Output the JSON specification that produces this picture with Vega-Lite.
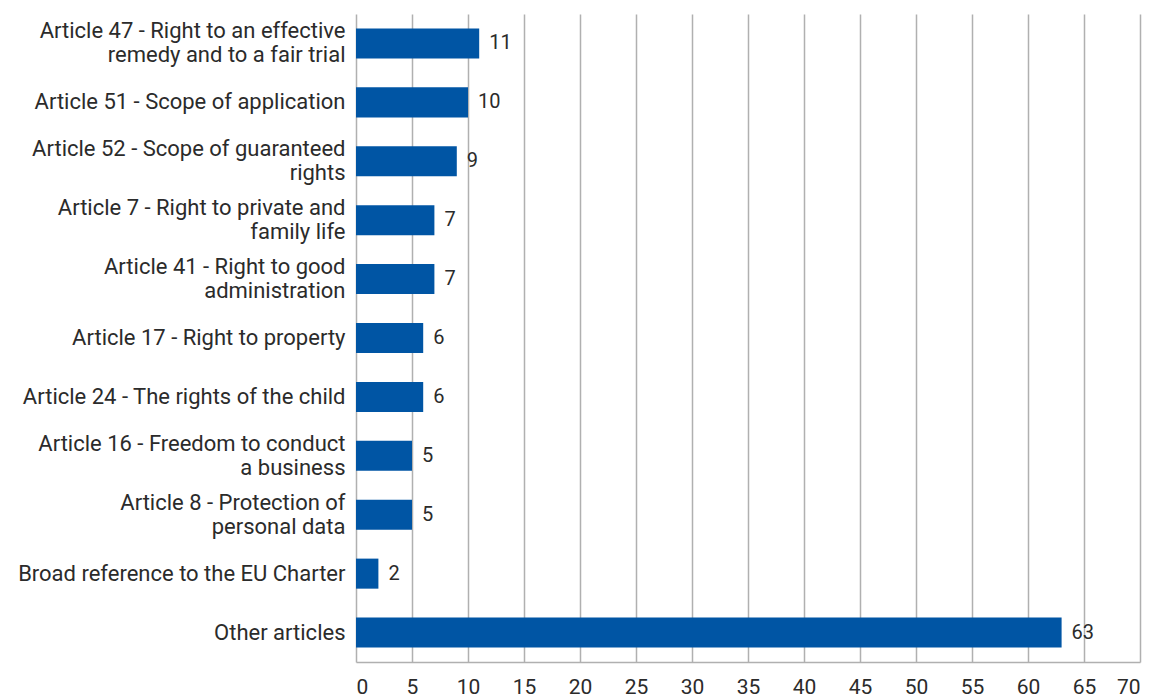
{
  "$schema": "https://vega.github.io/schema/vega-lite/v6.json",
  "width": 784,
  "height": 648,
  "autosize": {"type": "none"},
  "padding": {"left": 356, "top": 14, "right": 13, "bottom": 33},
  "background": "white",
  "config": {
    "font": "Roboto",
    "view": {"stroke": null}
  },
  "data": {
    "values": [
      {"article": "Article 47 - Right to an effective|remedy and to a fair trial", "count": 11, "order": 1},
      {"article": "Article 51 - Scope of application", "count": 10, "order": 2},
      {"article": "Article 52 - Scope of guaranteed|rights", "count": 9, "order": 3},
      {"article": "Article 7 - Right to private and|family life", "count": 7, "order": 4},
      {"article": "Article 41 - Right to good|administration", "count": 7, "order": 5},
      {"article": "Article 17 - Right to property", "count": 6, "order": 6},
      {"article": "Article 24 - The rights of the child", "count": 6, "order": 7},
      {"article": "Article 16 - Freedom to conduct|a business", "count": 5, "order": 8},
      {"article": "Article 8 - Protection of|personal data", "count": 5, "order": 9},
      {"article": "Broad reference to the EU Charter", "count": 2, "order": 10},
      {"article": "Other articles", "count": 63, "order": 11}
    ]
  },
  "encoding": {
    "y": {
      "field": "article",
      "type": "nominal",
      "sort": {"field": "order", "op": "min", "order": "ascending"},
      "scale": {"paddingInner": 0.49, "paddingOuter": 0.245},
      "axis": {
        "title": null,
        "domain": false,
        "ticks": false,
        "grid": false,
        "labelExpr": "split(datum.label, '|')",
        "labelFontSize": 22,
        "labelColor": "#2b2b2b",
        "labelPadding": 11,
        "labelLineHeight": 24,
        "labelLimit": 400,
        "labelOffset": {"condition": {"test": "indexof(datum.value, '|') >= 0", "value": -12}, "value": 0}
      }
    },
    "x": {
      "field": "count",
      "type": "quantitative",
      "scale": {"domain": [0, 70], "nice": false},
      "axis": {
        "title": null,
        "values": [0, 5, 10, 15, 20, 25, 30, 35, 40, 45, 50, 55, 60, 65, 70],
        "grid": true,
        "gridColor": "#b0b0b0",
        "gridWidth": 1.5,
        "domain": true,
        "domainColor": "#b0b0b0",
        "domainWidth": 1.5,
        "ticks": false,
        "labelFontSize": 21,
        "labelColor": "#2b2b2b",
        "labelPadding": 14
      }
    }
  },
  "layer": [
    {
      "mark": {"type": "bar", "color": "#0055A4"}
    },
    {
      "mark": {"type": "text", "align": "left", "baseline": "middle", "dx": 10, "fontSize": 20, "color": "#2b2b2b"},
      "encoding": {"text": {"field": "count", "type": "quantitative"}}
    }
  ]
}
